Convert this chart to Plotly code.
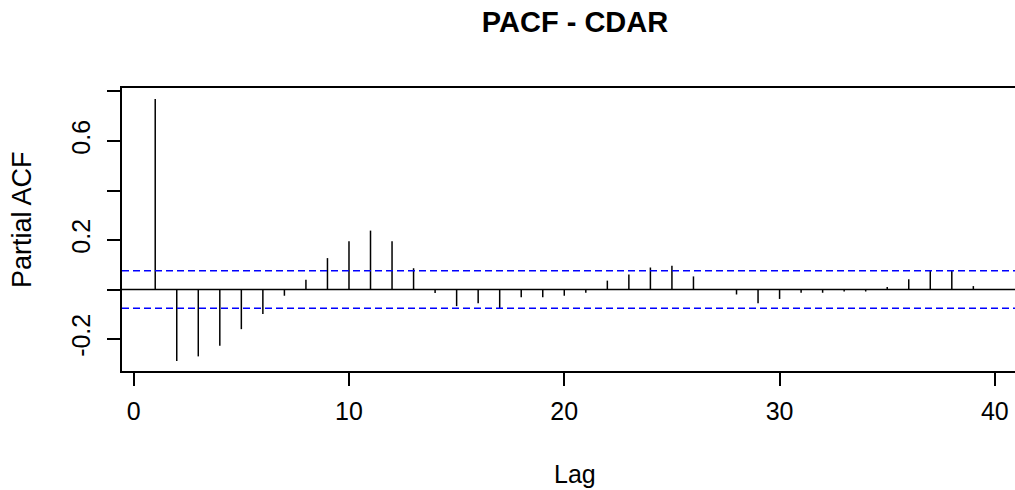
import plotly.graph_objects as go

# ---- data ----
lags = list(range(1, 41))
pacf = [0.770, -0.289, -0.270, -0.227, -0.160, -0.099, -0.025, 0.040, 0.127, 0.195,
        0.238, 0.195, 0.086, -0.014, -0.067, -0.055, -0.078, -0.031, -0.031, -0.025,
        -0.013, 0.036, 0.061, 0.089, 0.096, 0.053, 0.002, -0.020, -0.055, -0.038,
        -0.013, -0.013, -0.008, -0.008, 0.010, 0.042, 0.076, 0.076, 0.014, -0.001]
conf_limit = 0.076
x_ticks = [0, 10, 20, 30, 40]
y_ticks = [-0.2, 0.0, 0.2, 0.4, 0.6, 0.8]
y_ticktext = ["-0.2", "", "0.2", "", "0.6", ""]
title_text = "PACF - CDAR"
x_title = "Lag"
y_title = "Partial ACF"

FONT = "Liberation Sans, Arial, sans-serif"

# spikes built from data
xs, ys = [], []
for l, v in zip(lags, pacf):
    xs += [l, l, None]
    ys += [0, v, None]

fig = go.Figure()
fig.add_trace(go.Scatter(x=xs, y=ys, mode="lines",
                         line=dict(color="black", width=1.5),
                         hoverinfo="skip", showlegend=False))

# zero line and confidence limits
fig.add_hline(y=0, line=dict(color="black", width=1.5))
fig.add_hline(y=conf_limit, line=dict(color="#0000FF", width=1.5, dash="7px,4px"))
fig.add_hline(y=-conf_limit, line=dict(color="#0000FF", width=1.5, dash="7px,4px"))

fig.update_layout(
    width=1015, height=490,
    margin=dict(l=122, r=0, t=88, b=119),
    paper_bgcolor="white", plot_bgcolor="white",
    font=dict(family=FONT, color="black", size=25),
    title=dict(text="<b>" + title_text + "</b>", x=575 / 1015, xref="container",
               xanchor="center", y=1 - 22 / 490, yref="container", yanchor="middle",
               font=dict(size=29, family=FONT, color="black")),
    showlegend=False,
)

fig.update_xaxes(range=[-0.543, 40.935], tickvals=x_ticks, ticks="outside",
                 ticklen=13, tickwidth=1.5, tickcolor="black",
                 showline=True, linecolor="black", linewidth=1.5, mirror=True,
                 showgrid=False, zeroline=False, ticklabelstandoff=4,
                 tickfont=dict(size=25, family=FONT, color="black"))
fig.update_yaxes(range=[-0.329, 0.814], tickvals=y_ticks, ticktext=y_ticktext,
                 ticks="outside", ticklen=13, tickwidth=1.5, tickcolor="black",
                 showline=True, linecolor="black", linewidth=1.5, mirror=False,
                 showgrid=False, zeroline=False, tickangle=-90, ticklabelstandoff=7,
                 tickfont=dict(size=25, family=FONT, color="black"))

fig.add_annotation(text=x_title, xref="paper", yref="paper",
                   x=(575 - 122) / 893, y=(371 - 474) / 283,
                   xanchor="center", yanchor="middle", showarrow=False,
                   font=dict(size=25, family=FONT, color="black"))
fig.add_annotation(text=y_title, xref="paper", yref="paper",
                   x=(22 - 122) / 893, y=(371 - 220) / 283, textangle=-90,
                   xanchor="center", yanchor="middle", showarrow=False,
                   font=dict(size=27, family=FONT, color="black"))

fig.write_html("out.html")
